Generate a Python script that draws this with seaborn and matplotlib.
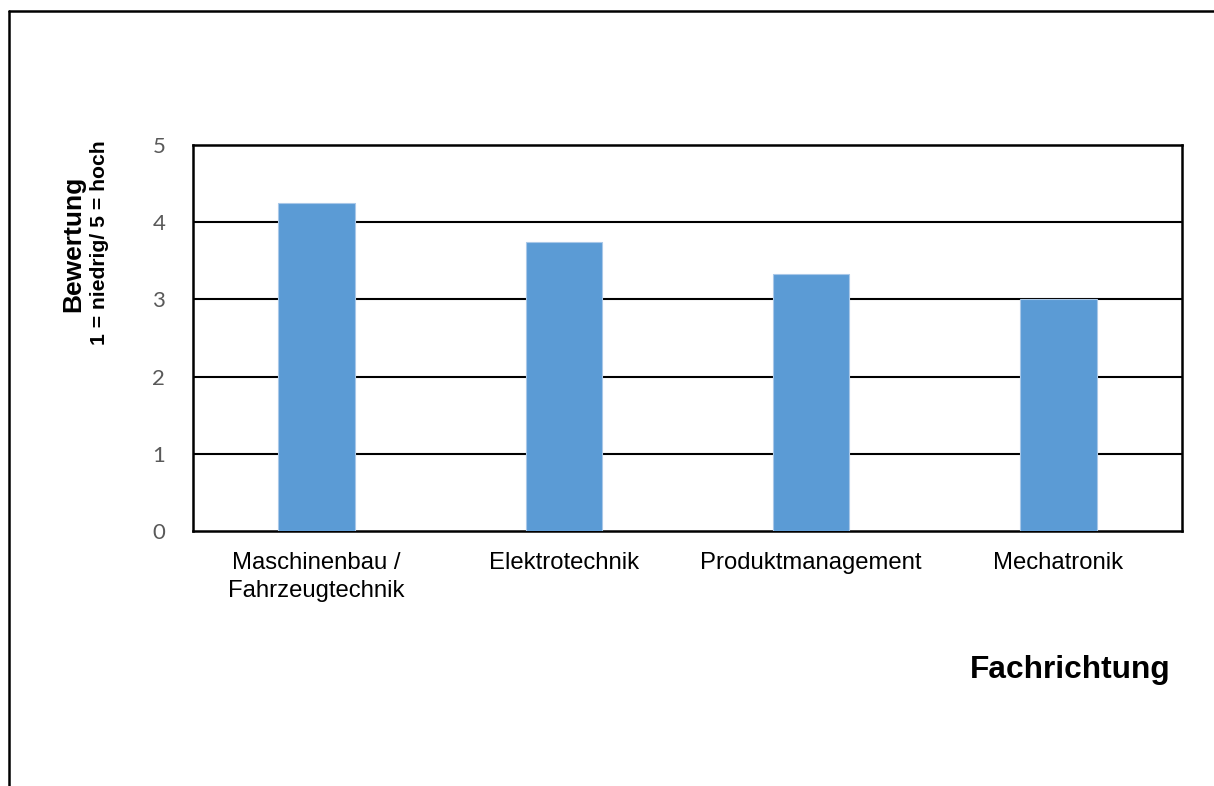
import matplotlib
matplotlib.use("Agg")
import matplotlib.pyplot as plt
from matplotlib.lines import Line2D
import seaborn as sns
import pandas as pd

categories = ['Maschinenbau /\nFahrzeugtechnik', 'Elektrotechnik', 'Produktmanagement', 'Mechatronik']
values = [4.25, 3.75, 3.33, 3.0]
y_ticks = [0, 1, 2, 3, 4, 5]

df = pd.DataFrame({'Fachrichtung': categories, 'Bewertung': values})

sns.set_style('white')
plt.rcParams['font.family'] = ['Liberation Sans', 'DejaVu Sans']
plt.rcParams['text.color'] = 'black'

fig = plt.figure(figsize=(12.14, 7.86), dpi=100)
ax = fig.add_axes([0.159, 0.3244, 0.8146, 0.4911])

sns.barplot(data=df, x='Fachrichtung', y='Bewertung', color='#5B9BD5',
            width=0.31, saturation=1, edgecolor='#A9C8E8', linewidth=0.8, ax=ax, zorder=3)

ax.set_ylim(0, 5)
ax.set_yticks(y_ticks)
ax.set_xlim(-0.5, len(categories) - 0.5)
for y in y_ticks[1:-1]:
    ax.axhline(y, color='black', lw=1.5, zorder=1)
for s in ax.spines.values():
    s.set_visible(True)
    s.set_color('black')
    s.set_linewidth(1.8)

ax.tick_params(axis='y', length=0, pad=20, labelsize=16, labelcolor='#595959')
ax.tick_params(axis='x', length=0, pad=15, labelsize=17.2, labelcolor='black')
for lbl in ax.get_yticklabels():
    lbl.set_fontfamily(['Lato', 'DejaVu Sans'])
for lbl in ax.get_xticklabels():
    lbl.set_linespacing(1.35)
ax.set_xlabel('')
ax.set_ylabel('')

fig.text(73 / 1214, 1 - 244 / 786, 'Bewertung', rotation=90, ha='center', va='center',
         fontsize=19, fontweight='bold')
fig.text(100 / 1214, 1 - 243 / 786, '1 = niedrig/ 5 = hoch', rotation=90, ha='center',
         va='center', fontsize=15.2, fontweight='bold')
fig.text(1170 / 1214, 1 - 670 / 786, 'Fachrichtung', ha='right', va='center',
         fontsize=22.8, fontweight='bold')

# outer chart frame (top and left visible)
fig.add_artist(Line2D([9 / 1214, 9 / 1214], [0, 1 - 11 / 786], transform=fig.transFigure,
                      color='black', lw=1.8))
fig.add_artist(Line2D([9 / 1214, 1], [1 - 11 / 786, 1 - 11 / 786], transform=fig.transFigure,
                      color='black', lw=1.8))

fig.savefig('out.png', dpi=100)
